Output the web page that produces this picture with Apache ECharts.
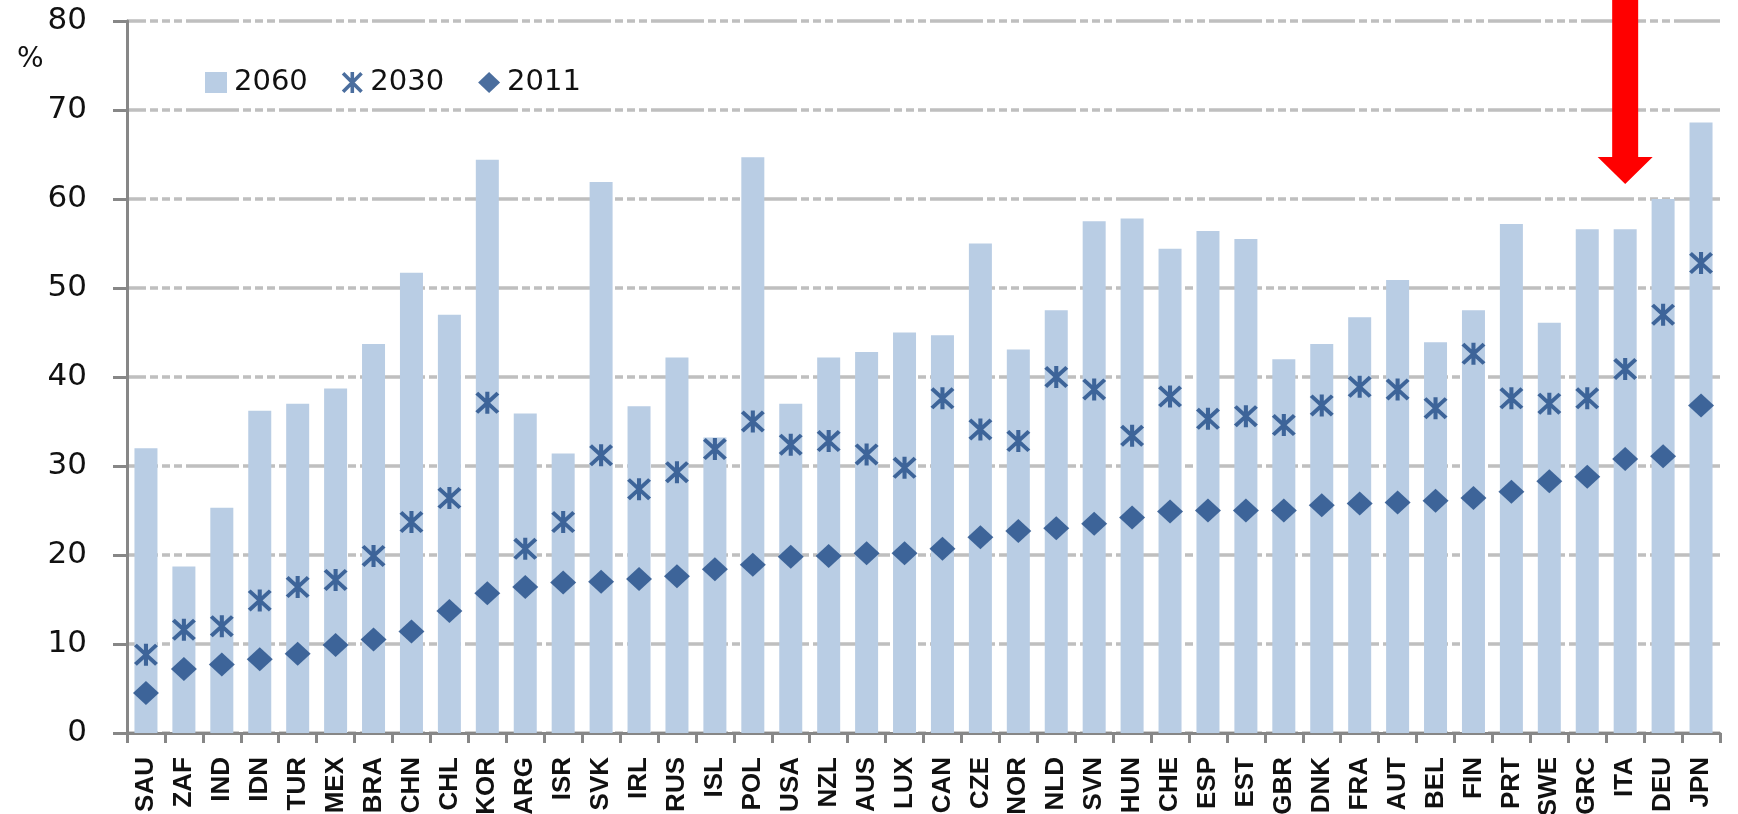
<!DOCTYPE html>
<html>
<head>
<meta charset="utf-8">
<script src="https://cdn.jsdelivr.net/npm/echarts@6/dist/echarts.min.js"></script>
<style>
html,body{margin:0;padding:0;background:#fff;}
#chart{width:1738px;height:814px;}
</style>
</head>
<body>
<div id="chart"></div>
<script>
const categories = ['SAU','ZAF','IND','IDN','TUR','MEX','BRA','CHN','CHL','KOR','ARG','ISR','SVK','IRL','RUS','ISL','POL','USA','NZL','AUS','LUX','CAN','CZE','NOR','NLD','SVN','HUN','CHE','ESP','EST','GBR','DNK','FRA','AUT','BEL','FIN','PRT','SWE','GRC','ITA','DEU','JPN'];
const v2060 = [32.0,18.7,25.3,36.2,37.0,38.7,43.7,51.7,47.0,64.4,35.9,31.4,61.9,36.7,42.2,33.2,64.7,37.0,42.2,42.8,45.0,44.7,55.0,43.1,47.5,57.5,57.8,54.4,56.4,55.5,42.0,43.7,46.7,50.9,43.9,47.5,57.2,46.1,56.6,56.6,60.0,68.6];
const v2030 = [8.8,11.6,12.0,14.9,16.4,17.2,19.9,23.7,26.4,37.1,20.7,23.7,31.2,27.4,29.3,31.9,35.0,32.4,32.8,31.3,29.8,37.6,34.1,32.8,40.0,38.6,33.4,37.8,35.3,35.6,34.6,36.8,38.9,38.6,36.5,42.6,37.6,37.0,37.6,40.9,47.0,52.8];
const v2011 = [4.5,7.2,7.7,8.3,8.9,9.9,10.5,11.4,13.7,15.7,16.4,16.9,17.0,17.3,17.6,18.4,18.9,19.8,19.9,20.2,20.2,20.7,22.0,22.7,23.0,23.5,24.2,24.9,25.0,25.0,25.0,25.6,25.8,25.9,26.1,26.4,27.1,28.3,28.8,30.8,31.1,36.8];
const yTicks = {min: 0, max: 80, interval: 10};
const seriesNames = ['2060','2030','2011'];
const highlighted = 'ITA';

const starPath = 'path://M8.3,0 L11.7,0 L11.7,20 L8.3,20 Z M0,2.4 L2.4,0 L20,17.6 L17.6,20 Z M17.6,0 L20,2.4 L2.4,20 L0,17.6 Z';
const barColor = '#b9cde4';
const markColor = '#1e4a86';
const gridGray = '#bfbfbf';
const axisGray = '#878787';

const chart = echarts.init(document.getElementById('chart'), null, {renderer: 'canvas'});
chart.setOption({
  animation: false,
  backgroundColor: '#ffffff',
  title: {
    text: '%', left: 12, top: 41,
    textStyle: {fontFamily: 'DejaVu Sans', fontSize: 28, fontWeight: 'normal', color: '#111'}
  },
  legend: {
    left: 200, top: 63,
    itemWidth: 22, itemHeight: 21, itemGap: 34,
    textStyle: {fontFamily: 'DejaVu Sans', fontSize: 29, color: '#111', padding: [0,0,0,2]},
    data: [
      {name: seriesNames[0], icon: 'rect'},
      {name: seriesNames[1], icon: starPath},
      {name: seriesNames[2], icon: 'diamond'}
    ]
  },
  grid: {left: 127, right: 18, top: 21, bottom: 81, containLabel: false, outerBoundsMode: 'none'},
  xAxis: {
    type: 'category',
    data: categories,
    boundaryGap: true,
    axisLine: {show: true, lineStyle: {color: axisGray, width: 3}},
    axisTick: {show: true, length: 10, lineStyle: {color: axisGray, width: 3}, alignWithLabel: false, interval: 0},
    axisLabel: {interval: 0, rotate: 90, margin: 24, fontFamily: 'Liberation Sans', fontSize: 26, fontWeight: 'bold', color: '#111'},
    splitLine: {show: false}
  },
  yAxis: {
    type: 'value',
    min: yTicks.min, max: yTicks.max, interval: yTicks.interval,
    axisLine: {show: true, lineStyle: {color: axisGray, width: 3}},
    axisTick: {show: true, length: 14, lineStyle: {color: axisGray, width: 3}},
    axisLabel: {margin: 40, fontFamily: 'DejaVu Sans', fontSize: 31, color: '#111'},
    splitLine: {show: true, lineStyle: {color: gridGray, width: 3.5, type: [53,4,8,4,8,4,8,4], dashOffset: 34}}
  },
  series: [
    {
      name: seriesNames[0], type: 'bar', data: v2060,
      barWidth: 23,
      itemStyle: {color: barColor},
      z: 1
    },
    {
      name: seriesNames[1], type: 'scatter', data: v2030,
      symbol: starPath, symbolSize: [24, 22],
      itemStyle: {color: markColor},
      z: 3
    },
    {
      name: seriesNames[2], type: 'scatter', data: v2011,
      symbol: 'diamond', symbolSize: [26, 24],
      itemStyle: {color: markColor},
      z: 3
    }
  ]
});

// red arrow annotation pointing at the highlighted category
const px = chart.convertToPixel({xAxisIndex: 0}, highlighted);
chart.setOption({
  graphic: [{
    type: 'polygon',
    z: 100,
    shape: {points: [
      [px - 13, 0], [px + 13, 0], [px + 13, 157], [px + 27.5, 157],
      [px, 184], [px - 27.5, 157], [px - 13, 157]
    ]},
    style: {fill: '#ff0000'}
  }]
});
</script>
</body>
</html>
